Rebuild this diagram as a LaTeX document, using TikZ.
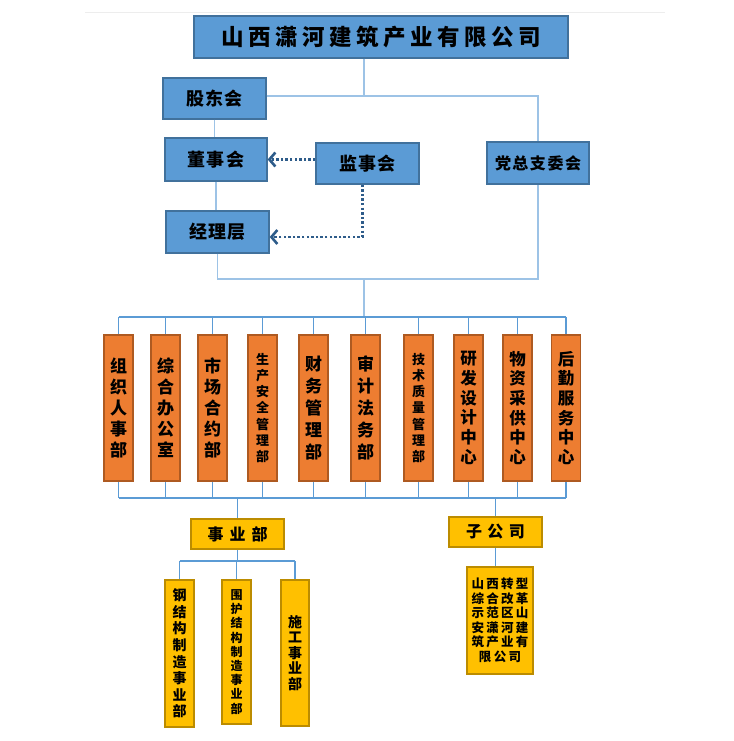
\documentclass[tikz,border=0pt]{standalone}
\usepackage{fontspec}
\newfontfamily\cjk{Noto Sans CJK SC}
\usetikzlibrary{arrows.meta}
\definecolor{bfill}{HTML}{5B9BD5}
\definecolor{bdraw}{HTML}{41719C}
\definecolor{ofill}{HTML}{ED7D31}
\definecolor{odraw}{HTML}{AE5A21}
\definecolor{yfill}{HTML}{FFC000}
\definecolor{ydraw}{HTML}{BC8C00}
\definecolor{lineA}{HTML}{9DC3E6}
\definecolor{lineB}{HTML}{5B9BD5}
\definecolor{dotc}{HTML}{2E5C8A}
\newcommand\gp[1]{\hspace{#1pt}}
\tikzset{
  base/.style={inner sep=0pt, line width=1.3pt, align=center, text=black},
  bluebox/.style={base, fill=bfill, draw=bdraw},
  orangebox/.style={base, fill=ofill, draw=odraw, minimum width=29pt, minimum height=146pt},
  yellowbox/.style={base, fill=yfill, draw=ydraw},
  conA/.style={draw=lineA, line width=1.4pt},
  conB/.style={draw=lineB, line width=1.4pt},
  dotarrow/.style={draw=dotc, line width=2.4pt, dash pattern=on 2.4pt off 2.2pt,
    -{Straight Barb[length=6pt,width=14pt,line width=2.6pt]}},
  fz/.style 2 args={font={\cjk\bfseries\fontsize{#1}{#2}\selectfont}}
}
\begin{document}
\begin{tikzpicture}[x=1pt,y=-1pt]
\useasboundingbox (0,0) rectangle (733,741);
\fill[white] (0,0) rectangle (733,741);
\draw[black!7, line width=0.8pt] (85,12) -- (665,12);

% top level
\node[bluebox, minimum width=374pt, minimum height=42pt, fz={22.5}{27}] (title) at (381,37)
  {山\gp{4.5}西\gp{4.5}潇\gp{4.5}河\gp{4.5}建\gp{4.5}筑\gp{4.5}产\gp{4.5}业\gp{4.5}有\gp{4.5}限\gp{4.5}公\gp{4.5}司};
\node[bluebox, minimum width=103pt, minimum height=41pt, fz={18}{22}] (gd) at (214.5,98.5) {股\gp{1.5}东\gp{1.5}会};
\node[bluebox, minimum width=102pt, minimum height=43pt, fz={18}{22}] (dsh) at (216,159.5) {董\gp{1.5}事\gp{1.5}会};
\node[bluebox, minimum width=103pt, minimum height=41pt, fz={18}{22}] (js) at (367.5,163.5) {监\gp{1.5}事\gp{1.5}会};
\node[bluebox, minimum width=102pt, minimum height=42pt, fz={16}{20}] (dz) at (538,163) {党\gp{1.5}总\gp{1.5}支\gp{1.5}委\gp{1.5}会};
\node[bluebox, minimum width=103pt, minimum height=42pt, fz={18}{22}] (jl) at (217.5,232) {经\gp{1.5}理\gp{1.5}层};

\coordinate (t1) at (364,96);
\coordinate (t2) at (364,279);
\coordinate (b1) at (0,317);
\coordinate (b2) at (0,498);
\coordinate (c1) at (0,561);

\draw[conA] (title.south -| t1) -- (t1);
\draw[conA] (t1 -| gd.east) -- (t1 -| dz.north) -- (dz.north);
\draw[conA] (gd.south) -- (gd.south |- dsh.north);
\draw[conA] (dsh.south) -- (dsh.south |- jl.north);
\draw[conA] (jl.south) |- (dz.south |- t2) -- (dz.south);
\draw[dotarrow] (js.west |- dsh.east) -- (dsh.east);
\draw[dotarrow] ([xshift=-5pt]js.south) |- ([yshift=-5pt]jl.east);

% departments
\node[orangebox, fz={17}{21}] (o1) at (118.5,408) {组\\织\\人\\事\\部};
\node[orangebox, fz={17}{21}] (o2) at (165.5,408) {综\\合\\办\\公\\室};
\node[orangebox, fz={17}{21}] (o3) at (212.5,408) {市\\场\\合\\约\\部};
\node[orangebox, fz={13}{16.3}] (o4) at (262.5,408) {生\\产\\安\\全\\管\\理\\部};
\node[orangebox, fz={17}{22}] (o5) at (313.5,408) {财\\务\\管\\理\\部};
\node[orangebox, fz={17}{22}] (o6) at (365.5,408) {审\\计\\法\\务\\部};
\node[orangebox, fz={13}{16.3}] (o7) at (418.5,408) {技\\术\\质\\量\\管\\理\\部};
\node[orangebox, fz={16.5}{19.7}] (o8) at (468.5,408) {研\\发\\设\\计\\中\\心};
\node[orangebox, fz={16.5}{19.7}] (o9) at (517.5,408) {物\\资\\采\\供\\中\\心};
\node[orangebox, fz={16.5}{19.7}] (o10) at (566,408) {后\\勤\\服\\务\\中\\心};

\draw[conA] (t2) -- (t2 |- b1);
\draw[conB] (o1.north |- b1) -- (o10.north |- b1);
\draw[conB] (o1.south |- b2) -- (o10.south |- b2);
\foreach \i in {1,...,10}{
  \draw[conB] (o\i.north) -- (o\i.north |- b1);
  \draw[conB] (o\i.south) -- (o\i.south |- b2);
}

% business units
\node[yellowbox, minimum width=93pt, minimum height=30pt, fz={16}{20}] (syb) at (237.5,534) {事\gp{6}业\gp{6}部};
\node[yellowbox, minimum width=93pt, minimum height=30pt, fz={16}{20}] (zgs) at (495.5,532) {子\gp{5.5}公\gp{5.5}司};
\draw[conB] (syb.north) -- (syb.north |- b2);
\draw[conB] (zgs.north) -- (zgs.north |- b2);

\node[yellowbox, minimum width=29pt, minimum height=147pt, fz={14}{16.6}] (y1) at (179.5,653.5) {钢\\结\\构\\制\\造\\事\\业\\部};
\node[yellowbox, minimum width=29pt, minimum height=144pt, fz={12}{14.2}] (y2) at (236.5,652) {围\\护\\结\\构\\制\\造\\事\\业\\部};
\node[yellowbox, minimum width=28pt, minimum height=146pt, fz={14}{15.6}] (y3) at (295,653) {施\\工\\事\\业\\部};
\draw[conB] (syb.south) -- (syb.south |- c1);
\draw[conB] (y1.north |- c1) -- (y3.north |- c1);
\foreach \i in {1,2,3}{\draw[conB] (y\i.north) -- (y\i.north |- c1);}

\node[yellowbox, minimum width=66pt, minimum height=107pt, fz={12.5}{14.5}] (sub) at (500,620.5)
  {山\gp{2.3}西\gp{2.3}转\gp{2.3}型\\综\gp{2.3}合\gp{2.3}改\gp{2.3}革\\示\gp{2.3}范\gp{2.3}区\gp{2.3}山\\安\gp{2.3}潇\gp{2.3}河\gp{2.3}建\\筑\gp{2.3}产\gp{2.3}业\gp{2.3}有\\限\gp{2.3}公\gp{2.3}司};
\draw[conB] (zgs.south) -- (zgs.south |- sub.north);
\end{tikzpicture}
\end{document}
